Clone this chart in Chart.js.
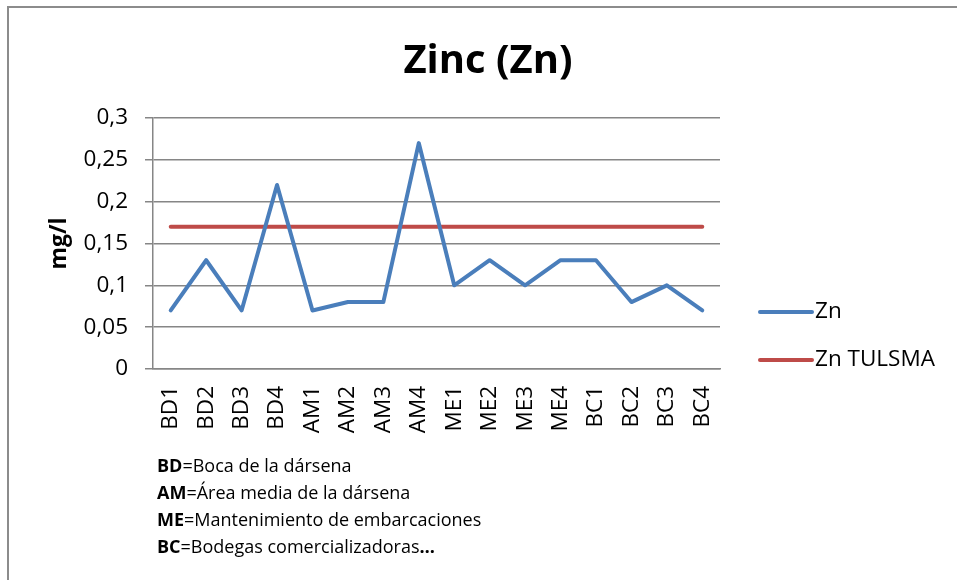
<!doctype html>
<html>
<head>
    <title>Zinc (Zn)</title>
    <script src="https://cdn.jsdelivr.net/npm/chart.js"></script>
    <style>
        body { margin: 0; background: #fff; }
        #wrap { position: relative; width: 957px; height: 580px; }
    </style>
</head>
<body>
    <div id="wrap">
        <canvas id="grafico" width="957" height="580"></canvas>
    </div>

    <script>
        // Puntos de muestreo (eje X)
        var puntos = ['BD1', 'BD2', 'BD3', 'BD4', 'AM1', 'AM2', 'AM3', 'AM4',
                      'ME1', 'ME2', 'ME3', 'ME4', 'BC1', 'BC2', 'BC3', 'BC4'];

        // Concentracion de zinc medida (mg/l)
        var zn = [0.07, 0.13, 0.07, 0.22, 0.07, 0.08, 0.08, 0.27,
                  0.10, 0.13, 0.10, 0.13, 0.13, 0.08, 0.10, 0.07];

        // Limite TULSMA (mg/l)
        var znTulsma = [0.17, 0.17, 0.17, 0.17, 0.17, 0.17, 0.17, 0.17,
                        0.17, 0.17, 0.17, 0.17, 0.17, 0.17, 0.17, 0.17];

        // Leyenda de abreviaturas bajo el grafico
        var abreviaturas = ['BD', 'AM', 'ME', 'BC'];
        var significados = ['Boca de la dársena', 'Área media de la dársena',
                            'Mantenimiento de embarcaciones', 'Bodegas comercializadoras'];

        var fuente = '"Open Sans", sans-serif';

        // Plugin para fondo, marco, titulo, leyenda y notas
        var extras = {
            id: 'extras',
            beforeDraw: function (chart) {
                var ctx = chart.ctx;
                ctx.save();
                ctx.fillStyle = '#fff';
                ctx.fillRect(0, 0, chart.width, chart.height);
                ctx.strokeStyle = '#8c8c8c';
                ctx.lineWidth = 2;
                ctx.beginPath();
                ctx.moveTo(8, chart.height);
                ctx.lineTo(8, 7);
                ctx.lineTo(chart.width, 7);
                ctx.stroke();
                ctx.restore();
            },
            afterDraw: function (chart) {
                var ctx = chart.ctx;
                ctx.save();
                ctx.fillStyle = '#000';

                // titulo
                ctx.font = 'bold 40px ' + fuente;
                ctx.textAlign = 'center';
                ctx.textBaseline = 'middle';
                ctx.fillText('Zinc (Zn)', 488, 62);

                // leyenda
                ctx.textAlign = 'left';
                ctx.font = '22.5px ' + fuente;
                chart.data.datasets.forEach(function (ds, i) {
                    var y = 312 + i * 48;
                    ctx.strokeStyle = ds.borderColor;
                    ctx.lineWidth = 4;
                    ctx.lineCap = 'round';
                    ctx.beginPath();
                    ctx.moveTo(760, y);
                    ctx.lineTo(812, y);
                    ctx.stroke();
                    ctx.fillText(ds.label, 815, y);
                });

                // notas
                abreviaturas.forEach(function (ab, i) {
                    var y = 467 + i * 27;
                    var x = 157;
                    ctx.font = 'bold 18px ' + fuente;
                    ctx.fillText(ab, x, y);
                    x += ctx.measureText(ab).width;
                    ctx.font = '18px ' + fuente;
                    var txt = '=' + significados[i];
                    ctx.fillText(txt, x, y);
                    if (i === abreviaturas.length - 1) {
                        x += ctx.measureText(txt).width;
                        ctx.font = 'bold 18px ' + fuente;
                        ctx.fillText('…', x, y);
                    }
                });
                ctx.restore();
            }
        };

        var grafico = new Chart(document.getElementById('grafico').getContext('2d'), {
            type: 'line',
            data: {
                labels: puntos,
                datasets: [{
                    label: 'Zn',
                    data: zn,
                    borderColor: '#4a7ebb',
                    borderWidth: 4,
                    borderCapStyle: 'round',
                    borderJoinStyle: 'round',
                    pointRadius: 0,
                    tension: 0
                }, {
                    label: 'Zn TULSMA',
                    data: znTulsma,
                    borderColor: '#be4b48',
                    borderWidth: 4,
                    borderCapStyle: 'round',
                    pointRadius: 0,
                    tension: 0
                }]
            },
            options: {
                responsive: false,
                animation: false,
                layout: { padding: { top: 118, right: 237, left: 0, bottom: 0 } },
                plugins: {
                    legend: { display: false },
                    title: { display: false },
                    tooltip: { enabled: false }
                },
                scales: {
                    x: {
                        offset: true,
                        afterFit: function (scale) { scale.height = 211; },
                        grid: { display: false, drawTicks: false },
                        border: { display: true, color: '#868686', width: 1.5 },
                        ticks: {
                            autoSkip: false,
                            minRotation: 90,
                            maxRotation: 90,
                            padding: 17,
                            color: '#000',
                            font: { family: fuente, size: 22.5 }
                        }
                    },
                    y: {
                        min: 0,
                        max: 0.3,
                        afterFit: function (scale) { scale.width = 153; },
                        grid: { color: '#868686', lineWidth: 1.5, tickLength: 8 },
                        border: { display: true, color: '#868686', width: 1.5 },
                        ticks: {
                            stepSize: 0.05,
                            padding: 17,
                            color: '#000',
                            font: { family: fuente, size: 22.5 },
                            callback: function (v) {
                                return String(Number(v.toFixed(2))).replace('.', ',');
                            }
                        },
                        title: {
                            display: true,
                            text: 'mg/l',
                            color: '#000',
                            padding: { top: 46, bottom: 0 },
                            font: { family: fuente, size: 23, weight: 'bold' }
                        }
                    }
                }
            },
            plugins: [extras]
        });
    </script>
</body>
</html>
